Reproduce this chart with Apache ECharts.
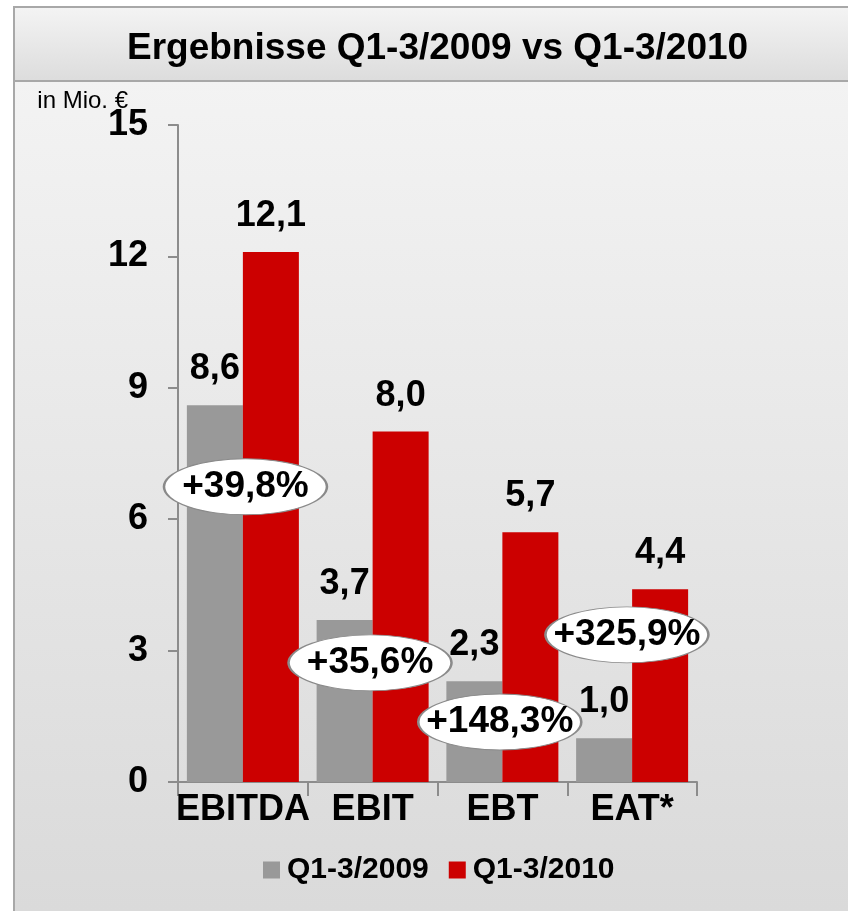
<!DOCTYPE html>
<html lang="de">
<head>
<meta charset="UTF-8">
<title>Ergebnisse Q1-3/2009 vs Q1-3/2010</title>
<script src="https://cdn.jsdelivr.net/npm/echarts@6.0.0/dist/echarts.min.js"></script>
<style>
  html, body { margin: 0; padding: 0; background: #ffffff; }
  #chart { width: 848px; height: 911px; }
</style>
</head>
<body>
<div id="chart"></div>
<script>
  // Werte aus der Grafik (in Mio. €)
  const categories = ['EBITDA', 'EBIT', 'EBT', 'EAT*'];
  const values2009 = [8.6, 3.7, 2.3, 1.0];
  const values2010 = [12.1, 8.0, 5.7, 4.4];
  const seriesNames = ['Q1-3/2009', 'Q1-3/2010'];
  const yTicks = [0, 3, 6, 9, 12, 15];

  // Veränderung in Prozent, als Ellipsen eingeblendet (x: Kategorie-Einheiten, y: Mio. €)
  const changeLabels = ['+39,8%', '+35,6%', '+148,3%', '+325,9%'];
  const changeX = [0.52, 1.48, 2.48, 3.46];
  const changeY = [6.74, 2.72, 1.37, 3.36];

  const font = "'Liberation Sans', Arial, sans-serif";
  const fmt = v => v.toFixed(1).replace('.', ',');

  const chart = echarts.init(document.getElementById('chart'));

  const barLabel = {
    show: true,
    position: 'top',
    distance: 18,
    formatter: p => fmt(p.value),
    fontFamily: font,
    fontWeight: 'bold',
    fontSize: 36,
    color: '#000'
  };

  const option = {
    animation: false,
    textStyle: { fontFamily: font },
    title: {
      text: 'Ergebnisse Q1-3/2009 vs Q1-3/2010',
      left: 122,
      top: 25,
      textStyle: { fontFamily: font, fontWeight: 'bold', fontSize: 37, color: '#000' }
    },
    graphic: [
      {
        type: 'rect', z: -10, silent: true,
        shape: { x: 14, y: 81, width: 900, height: 900 },
        style: {
          fill: new echarts.graphic.LinearGradient(0, 0, 0, 1, [
            { offset: 0, color: '#f3f3f3' },
            { offset: 0.92, color: '#dadada' },
            { offset: 1, color: '#d8d8d8' }
          ]),
          stroke: '#a8a8a8', lineWidth: 2
        }
      },
      {
        type: 'rect', z: -9, silent: true,
        shape: { x: 14, y: 7, width: 900, height: 74 },
        style: {
          fill: new echarts.graphic.LinearGradient(0, 0, 0, 1, [
            { offset: 0, color: '#f4f4f4' },
            { offset: 1, color: '#dcdcdc' }
          ]),
          stroke: '#a8a8a8', lineWidth: 2
        }
      }
    ],
    legend: {
      data: seriesNames,
      left: 258,
      top: 850,
      icon: 'rect',
      itemWidth: 17,
      itemHeight: 17,
      itemGap: 20,
      textStyle: { fontFamily: font, fontWeight: 'bold', fontSize: 30, color: '#000', padding: [0, 0, 0, 2] }
    },
    grid: { left: 178, right: 151, top: 125, bottom: 129 },
    xAxis: [
      {
        type: 'category',
        data: categories,
        axisLine: { lineStyle: { color: '#8c8c8c', width: 2 } },
        axisTick: { show: true, length: 14, lineStyle: { color: '#8c8c8c', width: 2 } },
        axisLabel: {
          margin: 10, interval: 0,
          fontFamily: font, fontWeight: 'bold', fontSize: 36, color: '#000'
        }
      },
      { type: 'value', min: 0, max: 4, show: false }
    ],
    yAxis: {
      type: 'value',
      min: yTicks[0],
      max: yTicks[yTicks.length - 1],
      interval: 3,
      name: 'in Mio. €',
      nameLocation: 'end',
      nameGap: 12,
      nameMoveOverlap: false,
      nameTextStyle: { fontFamily: font, fontSize: 24, color: '#000', align: 'right', padding: [0, 50, 0, 0] },
      axisLine: { show: true, lineStyle: { color: '#8c8c8c', width: 2 } },
      axisTick: { show: true, length: 10, lineStyle: { color: '#8c8c8c', width: 2 } },
      splitLine: { show: false },
      axisLabel: { margin: 30, fontFamily: font, fontWeight: 'bold', fontSize: 36, color: '#000' }
    },
    series: [
      {
        name: seriesNames[0], type: 'bar', data: values2009,
        barWidth: 56, barGap: '0%',
        itemStyle: { color: '#999999' },
        label: barLabel
      },
      {
        name: seriesNames[1], type: 'bar', data: values2010,
        barWidth: 56, barGap: '0%',
        itemStyle: { color: '#cc0000' },
        label: barLabel
      },
      {
        type: 'scatter', xAxisIndex: 1, yAxisIndex: 0, z: 10,
        symbol: 'circle',
        symbolSize: [163, 56],
        data: changeLabels.map((t, i) => ({ name: t, value: [changeX[i], changeY[i]] })),
        itemStyle: {
          color: new echarts.graphic.RadialGradient(0.5, 0.5, 0.6, [
            { offset: 0, color: '#ffffff' },
            { offset: 0.8, color: '#ffffff' },
            { offset: 1, color: '#ececec' }
          ]),
          borderColor: '#8a8a8a', borderWidth: 1.5, opacity: 1
        },
        label: {
          show: true, position: 'inside',
          formatter: p => p.name,
          fontFamily: font, fontWeight: 'bold', fontSize: 37, color: '#000'
        },
        emphasis: { disabled: true }
      }
    ]
  };

  chart.setOption(option);
</script>
</body>
</html>
